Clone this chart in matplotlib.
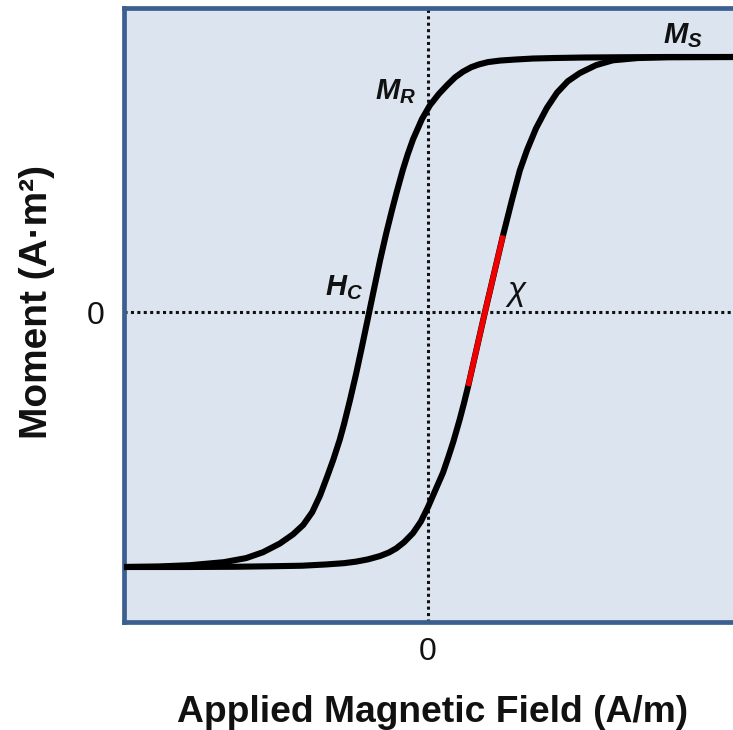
import matplotlib
matplotlib.use("Agg")
import matplotlib.pyplot as plt
import numpy as np

plt.rcParams["font.family"] = ["Liberation Sans", "DejaVu Sans"]
plt.rcParams["mathtext.fontset"] = "custom"
plt.rcParams["mathtext.rm"] = "Liberation Sans"
plt.rcParams["mathtext.it"] = "Liberation Sans:italic"
plt.rcParams["mathtext.bf"] = "Liberation Sans:bold"
plt.rcParams["mathtext.bfit"] = "Liberation Sans:bold:italic"

# Descending branch (field swept from +H to -H); field in units of Hc, moment in units of Ms
h_down = [5.08, 4.0, 3.2, 2.6, 2.1, 1.75, 1.45, 1.2, 1.0, 0.85, 0.72, 0.58, 0.45, 0.32,
          0.18, 0.03, -0.10, -0.25, -0.34, -0.42, -0.52, -0.60, -0.70, -0.80, -0.90, -0.98,
          -1.10, -1.20, -1.30, -1.40, -1.47, -1.58, -1.68, -1.80, -1.93, -2.08, -2.25,
          -2.47, -2.75, -3.03, -3.40, -3.97, -4.50, -5.08]
m_down = [1.0, 1.0, 0.999, 0.998, 0.996, 0.994, 0.99, 0.986, 0.98, 0.971, 0.96, 0.942,
          0.92, 0.89, 0.855, 0.81, 0.757, 0.677, 0.617, 0.557, 0.472, 0.40, 0.305, 0.202,
          0.09, 0.0, -0.135, -0.244, -0.345, -0.44, -0.50, -0.58, -0.645, -0.72, -0.785,
          -0.835, -0.872, -0.908, -0.942, -0.965, -0.981, -0.993, -0.998, -1.0]

# Ascending branch (field swept from -H to +H)
h_up = [-5.08, -4.0, -3.2, -2.6, -2.1, -1.7, -1.4, -1.2, -1.0, -0.8, -0.65, -0.53,
        -0.40, -0.25, -0.12, 0.0, 0.12, 0.25, 0.34, 0.42, 0.53, 0.60, 0.67, 0.80, 0.95,
        1.10, 1.25, 1.40, 1.53, 1.65, 1.80, 1.98, 2.15, 2.33, 2.53, 2.80, 3.08, 3.50,
        4.0, 5.08]
m_up = [-1.0, -1.0, -0.999, -0.997, -0.995, -0.99, -0.985, -0.979, -0.97, -0.957,
        -0.943, -0.927, -0.903, -0.867, -0.822, -0.765, -0.70, -0.63, -0.568, -0.51,
        -0.42, -0.357, -0.29, -0.155, 0.0, 0.15, 0.30, 0.44, 0.555, 0.635, 0.72, 0.80,
        0.86, 0.905, 0.937, 0.968, 0.987, 0.996, 0.999, 1.0]

# Susceptibility segment: ascending branch between these moments
chi_lo, chi_hi = -0.29, 0.30

x_ticks = [0]
y_ticks = [0]

BG = "#dce5ef"
FRAME = "#3b6090"
INK = "#111111"

fig = plt.figure(figsize=(7.33, 7.30), dpi=100)
ax = fig.add_axes([124 / 733, 1 - 622 / 730, 1 - 124 / 733, (622 - 7.5) / 730])
ax.set_facecolor(BG)
ax.set_xlim(-5.067, (733 - 428) / 60)
ax.set_ylim(-(622 - 312) / 255, (312 - 7.5) / 255)

# Zero reference lines
ax.axhline(0, color=INK, lw=2.2, ls=(0, (1, 1.1)), zorder=1)
ax.axvline(0, color=INK, lw=2.2, ls=(0, (1, 1.1)), zorder=1)

ax.plot(h_down, m_down, color="black", lw=4.4, solid_joinstyle="round", zorder=3)
ax.plot(h_up, m_up, color="black", lw=4.4, solid_joinstyle="round", zorder=3)

h_up_a = np.array(h_up)
m_up_a = np.array(m_up)
sel = (m_up_a >= chi_lo - 1e-9) & (m_up_a <= chi_hi + 1e-9)
ax.plot(h_up_a[sel], m_up_a[sel], color="#ee0000", lw=4.0, solid_capstyle="butt", zorder=4)

ax.text(3.92, 1.055, r"$\mathbfit{M}_\mathbfit{S}$", fontsize=21, color=INK, va="baseline")
ax.text(-0.883, 0.835, r"$\mathbfit{M}_\mathbfit{R}$", fontsize=21, color=INK, va="baseline")
ax.text(-1.717, 0.067, r"$\mathbfit{H}_\mathbfit{C}$", fontsize=21, color=INK, va="baseline")
ax.text(1.317, 0.047, "χ", fontsize=24, style="italic", color=INK, va="baseline")

for side in ("left", "top", "bottom"):
    ax.spines[side].set_color(FRAME)
    ax.spines[side].set_linewidth(3.4)
ax.spines["right"].set_visible(False)

ax.set_xticks(x_ticks)
ax.set_yticks(y_ticks)
ax.set_xticklabels(["0"], fontsize=23, color=INK)
ax.set_yticklabels(["0"], fontsize=23, color=INK)
ax.tick_params(axis="both", length=0)
ax.tick_params(axis="x", pad=11)
ax.tick_params(axis="y", pad=14)

ax.set_xlabel("Applied Magnetic Field (A/m)", fontsize=26.8, fontweight="bold", color=INK)
ax.set_ylabel("Moment (A·m²)", fontsize=28, fontweight="bold", color=INK)
ax.xaxis.set_label_coords(0.506, -0.118)
ax.yaxis.set_label_coords(-0.113, 0.521)

fig.savefig("out.png", dpi=100, facecolor="white")
